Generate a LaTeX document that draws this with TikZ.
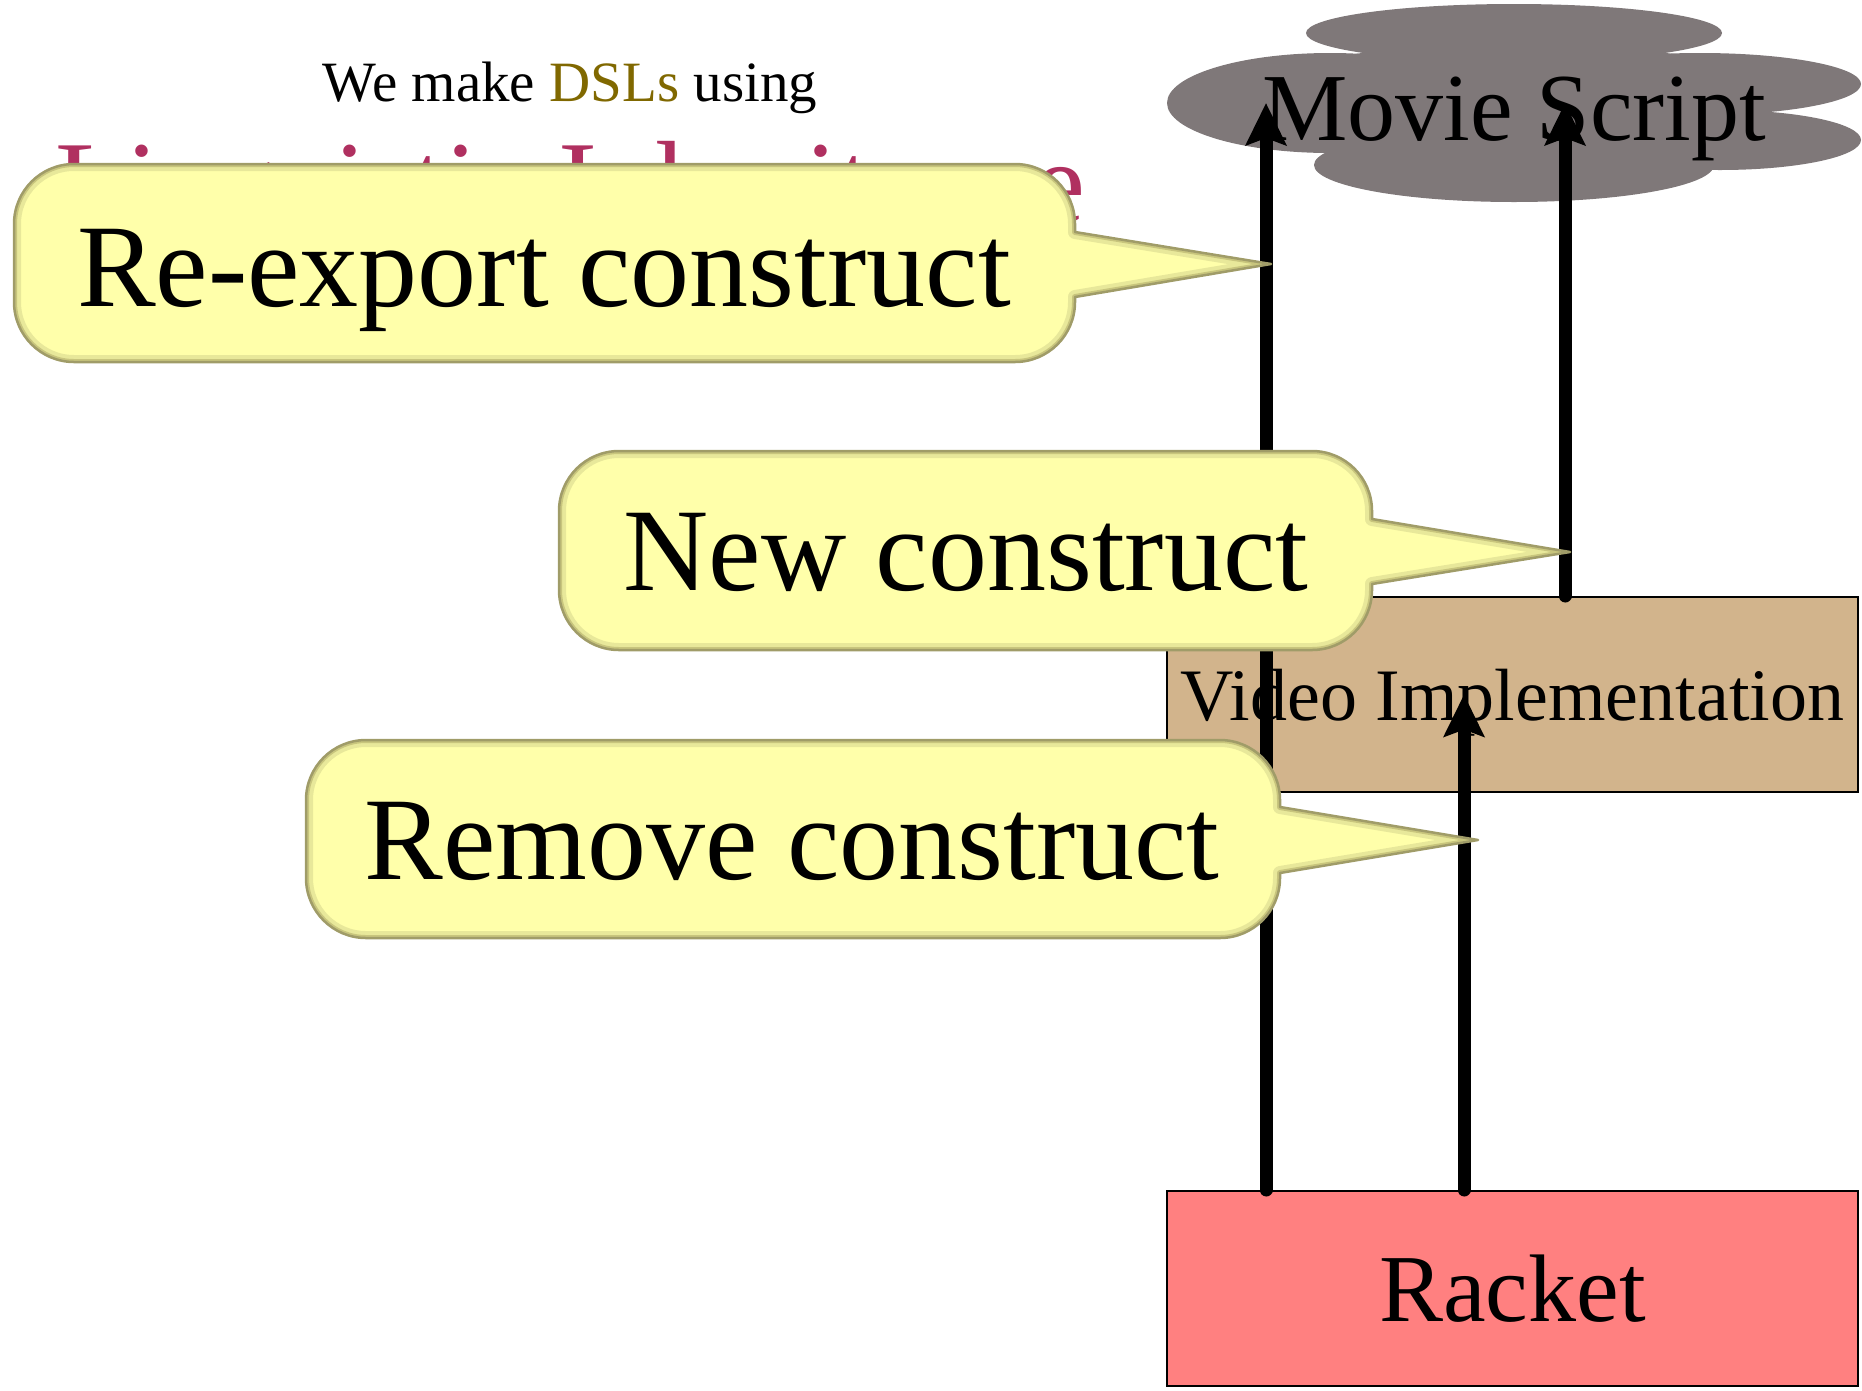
\documentclass[tikz,border=0pt]{standalone}
\usepackage{fontspec}
\setmainfont{Liberation Serif}
\usetikzlibrary{arrows.meta,calc}

\definecolor{cloudgray}{RGB}{127,120,121}
\definecolor{tanbox}{RGB}{210,180,140}
\definecolor{racketred}{RGB}{255,128,128}
\definecolor{balloonfill}{RGB}{255,255,170}
\definecolor{balloonedge}{RGB}{160,156,104}
\definecolor{balloonband}{RGB}{200,197,125}
\definecolor{balloonglow}{RGB}{232,232,154}
\definecolor{dslolive}{RGB}{128,104,0}
\definecolor{titlemaroon}{RGB}{176,48,96}

\newcommand{\fs}[1]{\fontsize{#1pt}{#1pt}\selectfont}

% outline of a speech balloon: box (x1,y1)-(x2,y2), pointer base y b1,b2 on the right side, tip (tx,ty)
\newcommand{\balloonshape}[8]{(#1+60,#2) -- (#3-60,#2) arc[start angle=270,end angle=360,radius=60]
  -- (#3,#5) -- (#7,#8) -- (#3,#6) -- (#3,#4-60) arc[start angle=0,end angle=90,radius=60]
  -- (#1+60,#4) arc[start angle=90,end angle=180,radius=60] -- (#1,#2+60)
  arc[start angle=180,end angle=270,radius=60] -- cycle}

\newcommand{\drawballoon}[8]{%
  \begin{scope}
    \clip \balloonshape{#1}{#2}{#3}{#4}{#5}{#6}{#7}{#8};
    \fill[balloonfill] (#1-10,#2-10) rectangle (#7+10,#4+10);
    \draw[balloonglow, line width=14, line join=round] \balloonshape{#1}{#2}{#3}{#4}{#5}{#6}{#7}{#8};
    \draw[balloonband, line width=6, line join=round] \balloonshape{#1}{#2}{#3}{#4}{#5}{#6}{#7}{#8};
  \end{scope}
  \draw[balloonedge, line width=2.5, line join=round] \balloonshape{#1}{#2}{#3}{#4}{#5}{#6}{#7}{#8};
}

\tikzset{
  layerbox/.style={draw=black, line width=2, minimum width=691, minimum height=195, inner sep=0},
  arrowline/.style={line width=13, line cap=round, -{Stealth[length=42pt, width=40pt, inset=7pt]}},
  balloontext/.style={anchor=base, font=\fs{118}},
}

\begin{document}
\begin{tikzpicture}[x=1pt, y=-1pt]
\useasboundingbox (0,0) rectangle (1862,1390);

% heading
\node[anchor=base, font=\fs{57}] (lead) at (570,101) {We make \textcolor{dslolive}{DSLs} using};
\node[anchor=base, font=\fs{117}, text=titlemaroon] (heading) at (570,222) {Linguistic Inheritance};

% cloud built from overlapping ellipses
\begin{scope}[fill=cloudgray]
  \fill (1514,33) ellipse [x radius=208, y radius=29];
  \fill (1330,103) ellipse [x radius=163, y radius=50];
  \fill (1700,84) ellipse [x radius=161, y radius=31];
  \fill (1720,140) ellipse [x radius=141, y radius=30];
  \fill (1514,165) ellipse [x radius=200, y radius=37];
  \fill (1514,100) ellipse [x radius=260, y radius=58];
\end{scope}
\coordinate (cloud) at (1514,103);
\node[anchor=base, font=\fs{96}] (script) at (1514,140) {Movie Script};

% layers
\node[layerbox, fill=tanbox, font=\fs{74}, text depth=0pt] (video) at (1512.5,694.5) {Video Implementation};
\node[layerbox, fill=racketred, font=\fs{96}] (racket) at (1512.5,1288.5) {Racket};

% arrows
\coordinate (xL) at (1266,0);
\coordinate (xM) at (1464,0);
\coordinate (xR) at (1565,0);
\draw[arrowline] (racket.north -| xL) -- (cloud -| xL);
\draw[arrowline] (video.north -| xR) -- (cloud -| xR);
\draw[arrowline] (racket.north -| xM) -- (video.center -| xM);

% balloons
\drawballoon{14}{164}{1075}{362}{232}{297}{1271}{264}
\node[balloontext] (reexport) at (544,306) {Re-export construct};

\drawballoon{559}{451}{1372}{650}{519}{584}{1570}{552}
\node[balloontext] (newc) at (966,590) {New construct};

\drawballoon{306}{740}{1280}{938}{807}{873}{1478}{840}
\node[balloontext] (removec) at (792,879) {Remove construct};

\end{tikzpicture}
\end{document}
